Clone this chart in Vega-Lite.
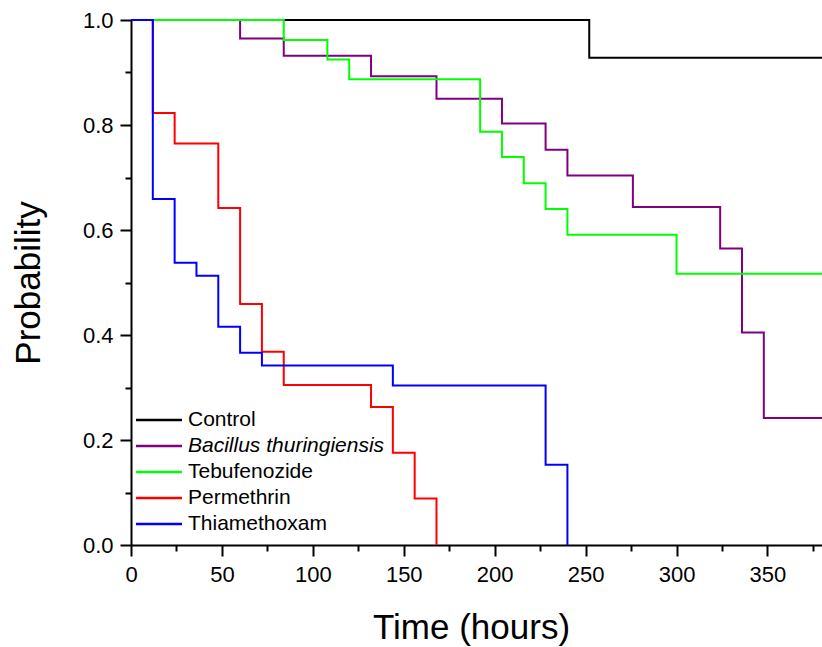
{
  "$schema": "https://vega.github.io/schema/vega-lite/v6.json",
  "width": 691,
  "height": 525,
  "autosize": "none",
  "padding": {"left": 131, "top": 20, "right": 0, "bottom": 102},
  "background": "white",
  "config": {"view": {"stroke": null}, "font": "Liberation Sans"},
  "data": {"values": [
    {"series": "Control", "t": 0, "p": 1},
    {"series": "Control", "t": 252, "p": 0.928},
    {"series": "Control", "t": 380, "p": 0.928},
    {"series": "Bacillus thuringiensis", "t": 0, "p": 1},
    {"series": "Bacillus thuringiensis", "t": 60, "p": 0.965},
    {"series": "Bacillus thuringiensis", "t": 84, "p": 0.932},
    {"series": "Bacillus thuringiensis", "t": 132, "p": 0.893},
    {"series": "Bacillus thuringiensis", "t": 168, "p": 0.85},
    {"series": "Bacillus thuringiensis", "t": 204, "p": 0.803},
    {"series": "Bacillus thuringiensis", "t": 228, "p": 0.753},
    {"series": "Bacillus thuringiensis", "t": 240, "p": 0.704},
    {"series": "Bacillus thuringiensis", "t": 276, "p": 0.644},
    {"series": "Bacillus thuringiensis", "t": 324, "p": 0.565},
    {"series": "Bacillus thuringiensis", "t": 336, "p": 0.405},
    {"series": "Bacillus thuringiensis", "t": 348, "p": 0.242},
    {"series": "Bacillus thuringiensis", "t": 380, "p": 0.242},
    {"series": "Tebufenozide", "t": 0, "p": 1},
    {"series": "Tebufenozide", "t": 84, "p": 0.962},
    {"series": "Tebufenozide", "t": 108, "p": 0.925},
    {"series": "Tebufenozide", "t": 120, "p": 0.887},
    {"series": "Tebufenozide", "t": 192, "p": 0.787},
    {"series": "Tebufenozide", "t": 204, "p": 0.739},
    {"series": "Tebufenozide", "t": 216, "p": 0.689},
    {"series": "Tebufenozide", "t": 228, "p": 0.64},
    {"series": "Tebufenozide", "t": 240, "p": 0.591},
    {"series": "Tebufenozide", "t": 300, "p": 0.5166},
    {"series": "Tebufenozide", "t": 380, "p": 0.5166},
    {"series": "Permethrin", "t": 0, "p": 1},
    {"series": "Permethrin", "t": 12, "p": 0.823},
    {"series": "Permethrin", "t": 24, "p": 0.765},
    {"series": "Permethrin", "t": 48, "p": 0.642},
    {"series": "Permethrin", "t": 60, "p": 0.459},
    {"series": "Permethrin", "t": 72, "p": 0.368},
    {"series": "Permethrin", "t": 84, "p": 0.305},
    {"series": "Permethrin", "t": 132, "p": 0.263},
    {"series": "Permethrin", "t": 144, "p": 0.1756},
    {"series": "Permethrin", "t": 156, "p": 0.0886},
    {"series": "Permethrin", "t": 168, "p": 0},
    {"series": "Thiamethoxam", "t": 0, "p": 1},
    {"series": "Thiamethoxam", "t": 12, "p": 0.659},
    {"series": "Thiamethoxam", "t": 24, "p": 0.5375},
    {"series": "Thiamethoxam", "t": 36, "p": 0.513},
    {"series": "Thiamethoxam", "t": 48, "p": 0.4156},
    {"series": "Thiamethoxam", "t": 60, "p": 0.366},
    {"series": "Thiamethoxam", "t": 72, "p": 0.342},
    {"series": "Thiamethoxam", "t": 144, "p": 0.304},
    {"series": "Thiamethoxam", "t": 228, "p": 0.153},
    {"series": "Thiamethoxam", "t": 240, "p": 0}
  ]},
  "mark": {"type": "line", "interpolate": "step-after", "strokeWidth": 2},
  "encoding": {
    "x": {
      "field": "t", "type": "quantitative",
      "scale": {"domain": [0, 380], "nice": false, "zero": false},
      "axis": {
        "title": "Time (hours)",
        "titleX": 340,
        "values": [0, 25, 50, 75, 100, 125, 150, 175, 200, 225, 250, 275, 300, 325, 350, 375],
        "labelExpr": "datum.value % 50 === 0 ? datum.label : ''",
        "tickSize": {"condition": {"test": "datum.value % 50 === 0", "value": 11}, "value": 6},
        "grid": false,
        "domainColor": "black", "domainWidth": 2,
        "tickColor": "black", "tickWidth": 2,
        "labelFontSize": 22, "labelColor": "black", "labelPadding": 8,
        "labelFlush": false, "labelOverlap": false,
        "titleFontSize": 35, "titleFontWeight": "normal", "titleColor": "black", "titlePadding": 25
      }
    },
    "y": {
      "field": "p", "type": "quantitative",
      "scale": {"domain": [0, 1], "nice": false},
      "axis": {
        "title": "Probability",
        "values": [0, 0.1, 0.2, 0.3, 0.4, 0.5, 0.6, 0.7, 0.8, 0.9, 1.0],
        "format": ".1f",
        "labelExpr": "round(datum.value * 10) % 2 === 0 ? datum.label : ''",
        "tickSize": {"condition": {"test": "round(datum.value * 10) % 2 === 0", "value": 11}, "value": 6},
        "grid": false,
        "domainColor": "black", "domainWidth": 2,
        "tickColor": "black", "tickWidth": 2,
        "labelFontSize": 22, "labelColor": "black", "labelPadding": 7,
        "labelFlush": false, "labelOverlap": false,
        "titleFontSize": 35, "titleFontWeight": "normal", "titleColor": "black", "titlePadding": 36
      }
    },
    "color": {
      "field": "series", "type": "nominal",
      "scale": {
        "domain": ["Control", "Bacillus thuringiensis", "Tebufenozide", "Permethrin", "Thiamethoxam"],
        "range": ["#000000", "#800080", "#00ff00", "#ff0000", "#0000ff"]
      },
      "legend": {
        "orient": "none", "legendX": 15, "legendY": 387,
        "title": null,
        "symbolType": "M-2,0H2", "symbolSize": 529, "symbolStrokeWidth": 2.5,
        "labelFontSize": 21, "labelColor": "black", "labelOffset": 16, "labelLimit": 400,
        "rowPadding": 3, "padding": 0,
        "encode": {"labels": {"update": {"fontStyle": {"signal": "datum.label === 'Bacillus thuringiensis' ? 'italic' : 'normal'"}}}}
      }
    }
  }
}
